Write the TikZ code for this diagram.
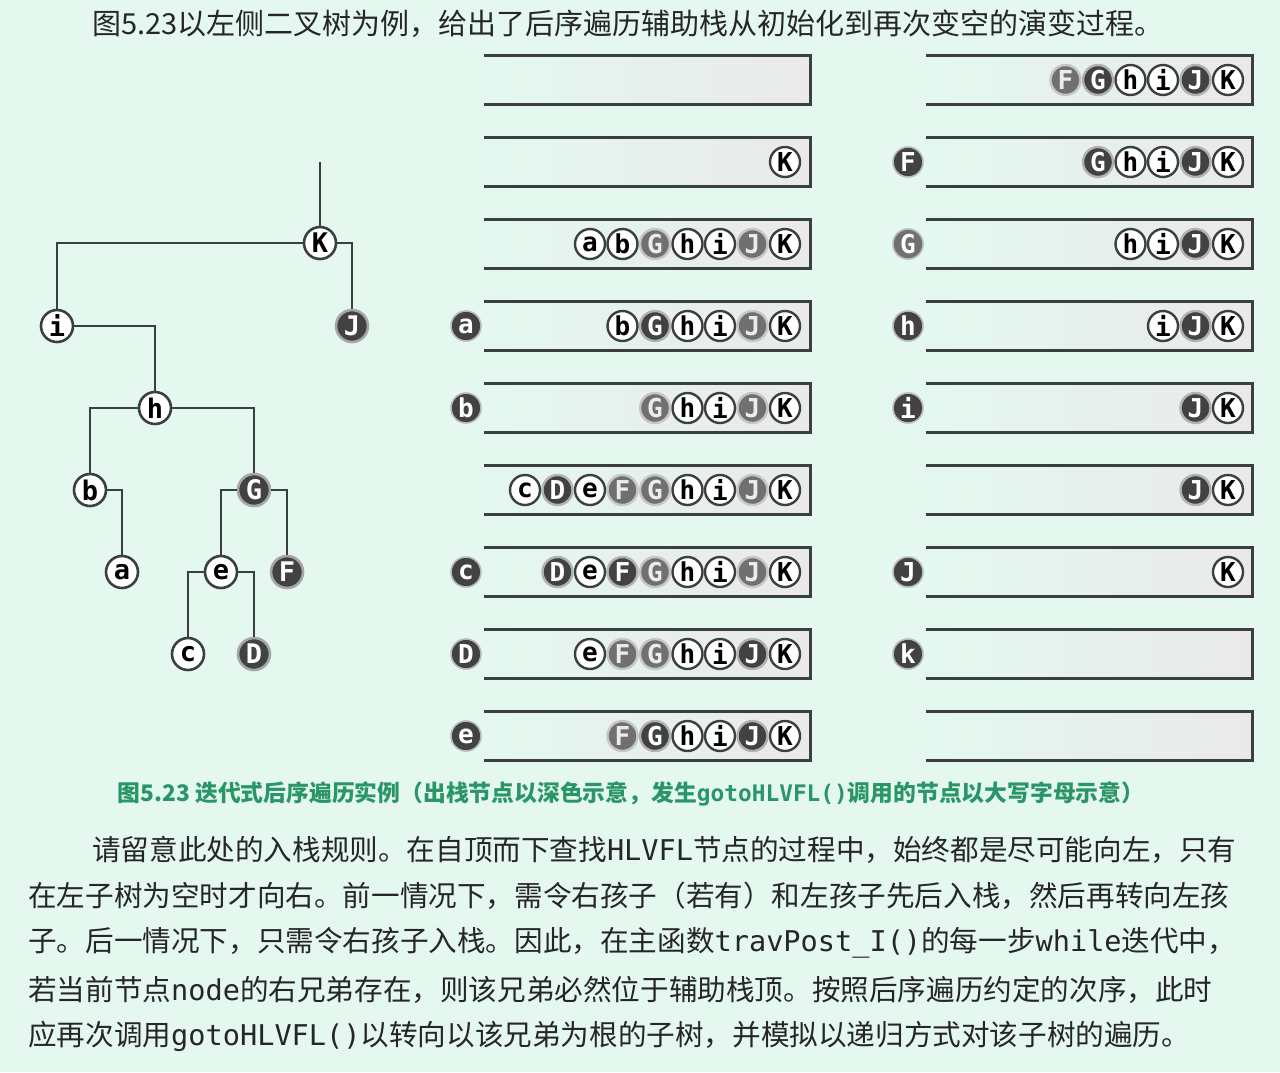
\documentclass[tikz,border=0pt]{standalone}
\usepackage{fontspec}
\setmainfont{Noto Sans CJK SC}
\setmonofont{DejaVu Sans Mono}
\newfontfamily\ballfont{DejaVu Sans Mono}
\usetikzlibrary{positioning}
\definecolor{bgmint}{RGB}{228,248,240}
\definecolor{edgegray}{RGB}{58,64,62}
\definecolor{balldark}{RGB}{66,66,66}
\definecolor{ballmid}{RGB}{112,112,112}
\definecolor{stackgray}{RGB}{233,233,233}
\definecolor{captiongreen}{RGB}{42,150,104}
\definecolor{textgray}{RGB}{38,38,38}
\tikzset{
  treenode/.style={circle, draw=edgegray, line width=2.6pt, fill=white, minimum size=32pt, inner sep=0pt, font=\ballfont\bfseries\fontsize{27}{27}\selectfont},
  treedark/.style={treenode, fill=balldark, draw=gray!70, text=white},
  tedge/.style={draw=edgegray, line width=2.8pt},
  stackbox/.style={minimum width=326pt, minimum height=49pt, inner sep=0pt, left color=bgmint, right color=stackgray},
  stackline/.style={draw=edgegray, line width=2.8pt},
  wball/.style={circle, draw=edgegray, line width=2.4pt, fill=white, minimum size=30pt, inner sep=0pt, font=\ballfont\bfseries\fontsize{26}{26}\selectfont},
  dball/.style={wball, fill=balldark, draw=gray!60, text=white},
  mball/.style={wball, fill=ballmid, draw=gray!45, text=white!85!gray},
  popnode/.style={wball, fill=balldark, draw=gray!55, line width=1.6pt, text=white},
  bodytext/.style={anchor=west, inner sep=0pt, text=textgray, font=\fontsize{28.6}{28.6}\selectfont},
}
\begin{document}
\begin{tikzpicture}[x=1pt, y=-1pt]
    \useasboundingbox[fill=bgmint] (0,0) rectangle (1280,1072);

    % title line
    \node[bodytext, font=\fontsize{29}{29}\selectfont] (title) at (92,24) {图5.23以左侧二叉树为例，给出了后序遍历辅助栈从初始化到再次变空的演变过程。};

    % the binary tree
    \node[treenode] (tK) at (320,243) {K};
    \node[treenode] (ti) at (57,326) {i};
    \node[treedark] (tJ) at (352,326) {J};
    \node[treenode] (th) at (155,408) {h};
    \node[treenode] (tb) at (90,490) {b};
    \node[treedark] (tG) at (254,490) {G};
    \node[treenode] (ta) at (122,572) {a};
    \node[treenode] (te) at (221,572) {e};
    \node[treedark] (tF) at (287,572) {F};
    \node[treenode] (tc) at (188,654) {c};
    \node[treedark] (tD) at (254,654) {D};
    \coordinate (troot) at (320,162);

    \draw[tedge] (troot) -- (tK.north);
    \draw[tedge] (tK.west) -| (ti.north);
    \draw[tedge] (tK.east) -| (tJ.north);
    \draw[tedge] (ti.east) -| (th.north);
    \draw[tedge] (th.west) -| (tb.north);
    \draw[tedge] (th.east) -| (tG.north);
    \draw[tedge] (tb.east) -| (ta.north);
    \draw[tedge] (tG.west) -| (te.north);
    \draw[tedge] (tG.east) -| (tF.north);
    \draw[tedge] (te.west) -| (tc.north);
    \draw[tedge] (te.east) -| (tD.north);

    % stack frames, left and right column
    \foreach \r in {1,...,9} {
        \node[stackbox] (L\r) at (647,{80+82*(\r-1)}) {};
        \draw[stackline] (L\r.north west) -- (L\r.north east) -- (L\r.south east) -- (L\r.south west);
        \node[stackbox] (R\r) at (1089,{80+82*(\r-1)}) {};
        \draw[stackline] (R\r.north west) -- (R\r.north east) -- (R\r.south east) -- (R\r.south west);
    }

    % stack contents, bottom (K) at the right end
    \foreach \t/\s [count=\k] in {K/wball}
        \node[\s] (L2s\k) at ({785-32.5*(\k-1)},162) {\t};
    \foreach \t/\s [count=\k] in {K/wball,J/mball,i/wball,h/wball,G/mball,b/wball,a/wball}
        \node[\s] (L3s\k) at ({785-32.5*(\k-1)},244) {\t};
    \foreach \t/\s [count=\k] in {K/wball,J/mball,i/wball,h/wball,G/dball,b/wball}
        \node[\s] (L4s\k) at ({785-32.5*(\k-1)},326) {\t};
    \foreach \t/\s [count=\k] in {K/wball,J/mball,i/wball,h/wball,G/mball}
        \node[\s] (L5s\k) at ({785-32.5*(\k-1)},408) {\t};
    \foreach \t/\s [count=\k] in {K/wball,J/mball,i/wball,h/wball,G/mball,F/mball,e/wball,D/dball,c/wball}
        \node[\s] (L6s\k) at ({785-32.5*(\k-1)},490) {\t};
    \foreach \t/\s [count=\k] in {K/wball,J/mball,i/wball,h/wball,G/mball,F/dball,e/wball,D/dball}
        \node[\s] (L7s\k) at ({785-32.5*(\k-1)},572) {\t};
    \foreach \t/\s [count=\k] in {K/wball,J/dball,i/wball,h/wball,G/mball,F/mball,e/wball}
        \node[\s] (L8s\k) at ({785-32.5*(\k-1)},654) {\t};
    \foreach \t/\s [count=\k] in {K/wball,J/dball,i/wball,h/wball,G/dball,F/mball}
        \node[\s] (L9s\k) at ({785-32.5*(\k-1)},736) {\t};

    \foreach \t/\s [count=\k] in {K/wball,J/dball,i/wball,h/wball,G/dball,F/mball}
        \node[\s] (R1s\k) at ({1228-32.5*(\k-1)},80) {\t};
    \foreach \t/\s [count=\k] in {K/wball,J/dball,i/wball,h/wball,G/dball}
        \node[\s] (R2s\k) at ({1228-32.5*(\k-1)},162) {\t};
    \foreach \t/\s [count=\k] in {K/wball,J/dball,i/wball,h/wball}
        \node[\s] (R3s\k) at ({1228-32.5*(\k-1)},244) {\t};
    \foreach \t/\s [count=\k] in {K/wball,J/dball,i/wball}
        \node[\s] (R4s\k) at ({1228-32.5*(\k-1)},326) {\t};
    \foreach \t/\s [count=\k] in {K/wball,J/dball}
        \node[\s] (R5s\k) at ({1228-32.5*(\k-1)},408) {\t};
    \foreach \t/\s [count=\k] in {K/wball,J/dball}
        \node[\s] (R6s\k) at ({1228-32.5*(\k-1)},490) {\t};
    \foreach \t/\s [count=\k] in {K/wball}
        \node[\s] (R7s\k) at ({1228-32.5*(\k-1)},572) {\t};

    % popped nodes
    \node[popnode] (pa) at (466,326) {a};
    \node[popnode] (pb) at (466,408) {b};
    \node[popnode] (pc) at (466,572) {c};
    \node[popnode] (pD) at (466,654) {D};
    \node[popnode] (pe) at (466,736) {e};
    \node[popnode] (pF) at (908,162) {F};
    \node[popnode, fill=ballmid] (pG) at (908,244) {G};
    \node[popnode] (ph) at (908,326) {h};
    \node[popnode] (pi) at (908,408) {i};
    \node[popnode] (pJ) at (908,572) {J};
    \node[popnode] (pk) at (908,654) {k};

    % caption
    \node[text=captiongreen, font=\bfseries\fontsize{22.8}{22.8}\selectfont] (caption) at (631,794) {图5.23 迭代式后序遍历实例（出栈节点以深色示意，发生\texttt{gotoHLVFL()}调用的节点以大写字母示意）};

    % paragraph
    \node[bodytext] (line1) at (92,850) {请留意此处的入栈规则。在自顶而下查找\texttt{HLVFL}节点的过程中，始终都是尽可能向左，只有};
    \node[bodytext] (line2) at (28,896) {在左子树为空时才向右。前一情况下，需令右孩子（若有）和左孩子先后入栈，然后再转向左孩};
    \node[bodytext] (line3) at (28,943) {子。后一情况下，只需令右孩子入栈。因此，在主函数\texttt{travPost\_I()}的每一步\texttt{while}迭代中，};
    \node[bodytext] (line4) at (28,990) {若当前节点\texttt{node}的右兄弟存在，则该兄弟必然位于辅助栈顶。按照后序遍历约定的次序，此时};
    \node[bodytext] (line5) at (28,1036) {应再次调用\texttt{gotoHLVFL()}以转向以该兄弟为根的子树，并模拟以递归方式对该子树的遍历。};
\end{tikzpicture}
\end{document}
